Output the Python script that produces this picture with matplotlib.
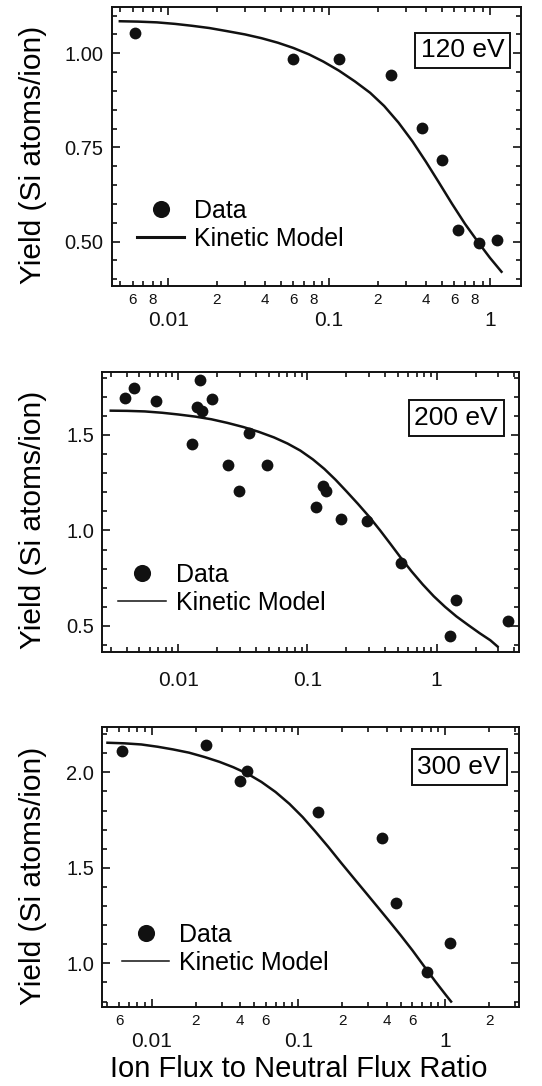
import matplotlib
matplotlib.use("Agg")
import matplotlib.pyplot as plt
import numpy as np

plt.rcParams['font.family'] = ['Liberation Sans', 'DejaVu Sans']

# --- measured yields, one set per ion energy ---
energy_labels = ['120 eV', '200 eV', '300 eV']

flux_120 = [0.0062, 0.0597, 0.115, 0.242, 0.376, 0.507, 0.634, 0.85, 1.11]
yield_120 = [1.053, 0.984, 0.984, 0.941, 0.802, 0.716, 0.531, 0.497, 0.503]

flux_200 = [0.0039, 0.0045, 0.0067, 0.0146, 0.0140, 0.0152, 0.0183, 0.0127,
            0.0241, 0.0293, 0.0354, 0.0482, 0.116, 0.131, 0.138, 0.181,
            0.290, 0.525, 1.26, 1.42, 3.59]
yield_200 = [1.695, 1.747, 1.678, 1.789, 1.647, 1.625, 1.686, 1.455,
             1.343, 1.206, 1.508, 1.343, 1.124, 1.232, 1.206, 1.060,
             1.050, 0.832, 0.447, 0.635, 0.524]

flux_300 = [0.0063, 0.0233, 0.0403, 0.0446, 0.1368, 0.370, 0.461, 0.750, 1.08]
yield_300 = [2.113, 2.143, 1.955, 2.007, 1.794, 1.654, 1.318, 0.953, 1.108]

# --- kinetic model curves ---
model_flux_120 = [0.0050, 0.0065, 0.0085, 0.011, 0.014, 0.018, 0.023, 0.030,
                  0.038, 0.048, 0.060, 0.075, 0.092, 0.115, 0.145, 0.180,
                  0.220, 0.270, 0.330, 0.400, 0.480, 0.580, 0.700, 0.850,
                  1.000, 1.180]
model_yield_120 = [1.085, 1.084, 1.082, 1.078, 1.073, 1.067, 1.059, 1.050,
                   1.040, 1.028, 1.014, 0.997, 0.978, 0.954, 0.925, 0.895,
                   0.860, 0.816, 0.766, 0.712, 0.658, 0.601, 0.547, 0.497,
                   0.457, 0.420]

model_flux_200 = [0.0030, 0.0040, 0.0055, 0.0075, 0.010, 0.0135, 0.018,
                  0.024, 0.032, 0.042, 0.055, 0.070, 0.088, 0.110, 0.135,
                  0.165, 0.200, 0.245, 0.300, 0.365, 0.440, 0.530, 0.640,
                  0.780, 0.950, 1.160, 1.420, 1.750, 2.150, 2.600, 2.960]
model_yield_200 = [1.627, 1.626, 1.623, 1.616, 1.607, 1.596, 1.582,
                   1.563, 1.541, 1.516, 1.487, 1.455, 1.418, 1.372, 1.322,
                   1.265, 1.205, 1.140, 1.072, 1.000, 0.928, 0.855, 0.785,
                   0.717, 0.655, 0.600, 0.550, 0.505, 0.462, 0.425, 0.392]

model_flux_300 = [0.0050, 0.0065, 0.0085, 0.011, 0.014, 0.018, 0.023, 0.029,
                  0.036, 0.045, 0.056, 0.070, 0.087, 0.107, 0.130, 0.160,
                  0.195, 0.240, 0.290, 0.350, 0.420, 0.500, 0.600, 0.720,
                  0.860, 1.000, 1.100]
model_yield_300 = [2.155, 2.152, 2.146, 2.134, 2.120, 2.103, 2.080, 2.055,
                   2.027, 1.993, 1.950, 1.897, 1.835, 1.766, 1.692, 1.610,
                   1.528, 1.444, 1.368, 1.292, 1.218, 1.146, 1.068, 0.985,
                   0.905, 0.840, 0.800]

# --- axis ranges and ticks ---
xlims = [(0.00445, 1.56), (0.00258, 4.36), (0.00461, 3.21)]
ylims = [(0.383, 1.122), (0.365, 1.831), (0.770, 2.239)]
ymajor = [[0.50, 0.75, 1.00], [0.5, 1.0, 1.5], [1.0, 1.5, 2.0]]
ymajor_fmt = ['{:.2f}', '{:.1f}', '{:.1f}']
yminor_step = [0.05, 0.1, 0.1]
# which minor decade ticks get a small number under them
minor_labelled = [
    [0.006, 0.008, 0.02, 0.04, 0.06, 0.08, 0.2, 0.4, 0.6, 0.8],
    [],
    [0.006, 0.02, 0.04, 0.06, 0.2, 0.4, 0.6, 2.0],
]

W, H = 542, 1086
# axes boxes in pixels: left, top, right, bottom
boxes = [(111.7, 7.3, 521.0, 285.7),
         (102.3, 371.7, 519.3, 651.7),
         (102.3, 726.7, 519.3, 1007.3)]
legend_anchor = [(0.037, 0.089), (0.014, 0.096), (0.023, 0.080)]
label_box_pos = [(0.857, 0.8455), (0.8487, 0.8354), (0.8559, 0.8564)]
legend_lw = [2.2, 1.1, 1.1]
major_pads = [18, 14, 18]

fig = plt.figure(figsize=(W / 100, H / 100), dpi=100)

data_sets = [(flux_120, yield_120, model_flux_120, model_yield_120),
             (flux_200, yield_200, model_flux_200, model_yield_200),
             (flux_300, yield_300, model_flux_300, model_yield_300)]

for i, (fx, fy, mx, my) in enumerate(data_sets):
    l, t, r, b = boxes[i]
    ax = fig.add_axes([l / W, 1 - b / H, (r - l) / W, (b - t) / H])
    ax.set_xscale('log')

    ax.plot(fx, fy, 'o', color='#111111', ms=8.5, mec='none', label='Data',
            zorder=3)
    ax.plot(mx, my, '-', color='#111111', lw=1.8, label='Kinetic Model',
            solid_joinstyle='round')

    ax.set_xlim(*xlims[i])
    ax.set_ylim(*ylims[i])

    # x ticks: decades labelled big, some minor ticks labelled small
    lo, hi = xlims[i]
    majors = [d for d in [0.001, 0.01, 0.1, 1, 10] if lo <= d <= hi]
    ax.set_xticks(majors, [('%g' % d) for d in majors])
    minors = []
    for d in [0.001, 0.01, 0.1, 1]:
        for k in range(2, 10):
            v = round(k * d, 6)
            if lo <= v <= hi:
                minors.append(v)
    mlabels = [('%g' % (v / 10 ** np.floor(np.log10(v) + 1e-9)))
               if any(abs(v - s) < 1e-9 for s in minor_labelled[i]) else ''
               for v in minors]
    ax.set_xticks(minors, mlabels, minor=True)

    ax.set_yticks(ymajor[i], [ymajor_fmt[i].format(v) for v in ymajor[i]])
    step = yminor_step[i]
    ymin_ticks = np.arange(np.ceil(ylims[i][0] / step) * step, ylims[i][1], step)
    ax.set_yticks(ymin_ticks, minor=True)

    ax.tick_params(which='both', direction='in', top=True, right=True,
                   width=1.2, colors='#111111')
    ax.tick_params(which='major', length=6)
    ax.tick_params(which='minor', length=3.5)
    ax.tick_params(axis='x', which='major', labelsize=15, pad=major_pads[i])
    ax.tick_params(axis='x', which='minor', labelsize=11, pad=5)
    ax.tick_params(axis='y', which='major', labelsize=14.5, pad=6)
    for s in ax.spines.values():
        s.set_linewidth(1.4)
        s.set_color('#111111')

    ax.set_ylabel('Yield (Si atoms/ion)', fontsize=21.5, va='center')
    ax.yaxis.set_label_coords((33 - l) / (r - l), 0.47)

    leg = ax.legend(loc='lower left', bbox_to_anchor=legend_anchor[i],
                    borderaxespad=0, frameon=False, fontsize=18,
                    handlelength=1.9, handletextpad=0.4, labelspacing=0.15,
                    markerscale=1.45)
    leg.get_lines()[1].set_linewidth(legend_lw[i])

    ax.text(*label_box_pos[i], energy_labels[i], transform=ax.transAxes,
            fontsize=19, ha='center', va='center',
            bbox=dict(boxstyle='square,pad=0.22', fc='white', ec='#111111',
                      lw=1.4))

    if i == 2:
        ax.set_xlabel('Ion Flux to Neutral Flux Ratio', fontsize=21,
                      va='center')
        ax.xaxis.set_label_coords((298.5 - l) / (r - l),
                                  (b - 1069) / (b - t))

fig.savefig('out.png', dpi=100)
